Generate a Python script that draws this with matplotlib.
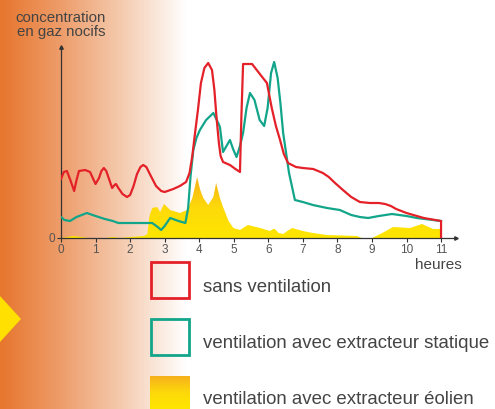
import numpy as np
import matplotlib.pyplot as plt
from matplotlib.colors import LinearSegmentedColormap
from matplotlib.patches import Rectangle, Polygon

plt.rcParams['font.family'] = ['Liberation Sans', 'DejaVu Sans']

# data (hours, concentration in arbitrary units)
red_h = [0, 0.08, 0.17, 0.27, 0.38, 0.45, 0.52, 0.7, 0.84, 0.92, 1.0, 1.1, 1.17, 1.24, 1.31,
         1.4, 1.48, 1.55, 1.59, 1.66, 1.78, 1.91, 2.0, 2.1, 2.2, 2.3, 2.38, 2.47, 2.6, 2.75,
         2.9, 3.0, 3.25, 3.44, 3.62, 3.72, 3.8, 3.88, 3.97, 4.05, 4.15, 4.26, 4.37, 4.44,
         4.5, 4.57, 4.62, 4.69, 4.89, 5.05, 5.18, 5.22, 5.27, 5.53, 5.8, 5.96, 6.1, 6.22,
         6.34, 6.45, 6.57, 6.8, 7.0, 7.3, 7.58, 7.75, 7.9, 8.16, 8.4, 8.65, 8.94, 9.2, 9.38,
         9.55, 9.7, 10.0, 10.5, 11.0, 11.0]
red_v = [59, 66, 67, 58, 47, 58, 67, 68, 66, 60, 54, 60, 67, 70, 67, 58, 50, 53, 54, 50, 44,
         41, 43, 52, 64, 71, 73, 71, 62, 52, 47, 46, 49, 52, 56, 65, 82, 105, 130, 155, 170,
         175, 168, 148, 121, 95, 82, 76, 73, 69, 66, 120, 174, 174, 162, 155, 130, 112,
         98, 84, 75, 71, 70, 69, 65, 61, 56, 48, 41, 36, 35, 35, 34, 32, 29, 25, 20, 17, 0]

teal_h = [0, 0.1, 0.26, 0.45, 0.75, 1.0, 1.27, 1.5, 1.66, 2.0, 2.64, 2.8, 2.9, 3.0, 3.16,
          3.4, 3.6, 3.68, 3.75, 3.83, 3.92, 4.02, 4.2, 4.41, 4.55, 4.6, 4.69, 4.79, 4.89,
          4.98, 5.08, 5.18, 5.27, 5.37, 5.47, 5.6, 5.75, 5.88, 5.98, 6.08, 6.17, 6.27, 6.35,
          6.43, 6.6, 6.77, 7.0, 7.29, 7.7, 8.07, 8.4, 8.65, 8.89, 9.2, 9.58, 10.0, 10.3, 11.0]
teal_v = [21, 18, 17, 21, 25, 22, 19, 17, 15, 15, 15, 11, 8, 12, 20,
          17, 15, 30, 62, 88, 100, 108, 118, 125, 115, 111, 86, 92, 98,
          89, 81, 92, 105, 130, 145, 138, 118, 112, 130, 165, 176, 160, 135,
          105, 65, 38, 36, 33, 30, 28, 23, 21, 20, 22, 24, 22, 20, 17]

yel_h = [0, 0.2, 0.35, 0.6, 0.8, 1.3, 1.5, 1.7, 2.0, 2.4, 2.5, 2.56, 2.64, 2.78, 2.87, 2.98,
         3.16, 3.44, 3.65, 3.8, 3.94, 4.03, 4.12, 4.26, 4.41, 4.49, 4.6, 4.69, 4.85, 4.99,
         5.18, 5.41, 5.76, 6.05, 6.14, 6.19, 6.3, 6.43, 6.55, 6.69, 7.0, 7.29, 7.7, 8.57,
         8.7, 9.0, 9.3, 9.61, 10.1, 10.45, 10.77, 11.0, 11.0]
yel_v = [0, 1, 2, 1, 0, 0, 1, 0, 1, 2, 4, 22, 30, 31, 26, 34,
         28, 25, 28, 40, 61, 48, 40, 33, 41, 55, 40, 31, 17, 10,
         8, 13, 10, 7, 9, 9, 5, 4, 7, 10, 7, 5, 3, 2,
         0, 0, 5, 11, 10, 14, 9, 9, 0]

hours = list(range(12))
labels = ['sans ventilation', 'ventilation avec extracteur statique',
          'ventilation avec extracteur éolien']

red = '#E42129'
teal = '#12A58A'
txt = '#444444'
W, H = 495, 409

fig = plt.figure(figsize=(W / 100, H / 100), dpi=100)

# background: orange to white gradient on the left
bg = fig.add_axes([0, 0, 1, 1])
bg.set_xlim(0, W)
bg.set_ylim(H, 0)
bg.axis('off')
grad = np.linspace(0, 1, 200).reshape(1, -1)
bgcmap = LinearSegmentedColormap.from_list('bg', ['#E7762E', '#EE9E6C', '#F5CDB2', '#FFFFFF'])
bg.imshow(grad, cmap=bgcmap, extent=[0, 187, H, 0], aspect='auto')
bg.add_patch(Polygon([[0, 296], [21, 319], [0, 342]], closed=True, color='#FFE000', lw=0))
bg.set_xlim(0, W)
bg.set_ylim(H, 0)

# main chart
ax = fig.add_axes([61 / W, (H - 238) / H, (456 - 61) / W, (238 - 47) / H])
ax.patch.set_alpha(0)

yel_cmap = LinearSegmentedColormap.from_list('yel', ['#FFE600', '#FDD90A', '#F6B01C'])
poly = ax.fill(yel_h, yel_v, color='none', lw=0)[0]
img = ax.imshow(np.linspace(0, 1, 100).reshape(-1, 1), cmap=yel_cmap, origin='lower',
                extent=[0, 11, 0, 62], aspect='auto', zorder=1)
img.set_clip_path(poly)

ax.plot(teal_h, teal_v, color=teal, lw=1.6, zorder=3, solid_joinstyle='round')
ax.plot(red_h, red_v, color=red, lw=1.6, zorder=4, solid_joinstyle='round')
ax.set_xlim(0, (456 - 61) / 34.55)
ax.set_ylim(0, 191)

for s in ['top', 'right']:
    ax.spines[s].set_visible(False)
for s in ['left', 'bottom']:
    ax.spines[s].set_color('#333333')
    ax.spines[s].set_linewidth(0.9)
ax.set_xticks(hours)
ax.set_xticklabels([str(h) for h in hours])
ax.set_yticks([0])
ax.set_yticklabels(['0'])
ax.tick_params(length=3, width=0.8, color='#333333', labelsize=8.5, labelcolor='#555555', pad=1)
ax.plot(1, 0, '>', color='#333333', ms=2.5, transform=ax.transAxes, clip_on=False)
ax.plot(0, 1, '^', color='#333333', ms=2.5, transform=ax.transAxes, clip_on=False)

bg.text(61, 18, 'concentration', ha='center', va='center', fontsize=10.8, color=txt)
bg.text(61, 32, 'en gaz nocifs', ha='center', va='center', fontsize=10.8, color=txt)
bg.text(438, 265, 'heures', ha='center', va='center', fontsize=11, color=txt)

# legend drawn by hand
fig_ax = fig.add_axes([0, 0, 1, 1])
fig_ax.axis('off')
fig_ax.add_patch(Rectangle((151, 262), 38, 36, fill=False, ec=red, lw=2))
fig_ax.add_patch(Rectangle((151, 319), 38, 36, fill=False, ec=teal, lw=2))
fig_ax.imshow(np.linspace(0, 1, 100).reshape(-1, 1), cmap=yel_cmap.reversed(),
              extent=[150, 190, 409, 376], aspect='auto')
fig_ax.set_xlim(0, W)
fig_ax.set_ylim(H, 0)
for y, lab in zip([287, 343, 399], labels):
    fig_ax.text(203, y, lab, ha='left', va='center', fontsize=13.4, color=txt)

fig.savefig('out.png', dpi=100)
